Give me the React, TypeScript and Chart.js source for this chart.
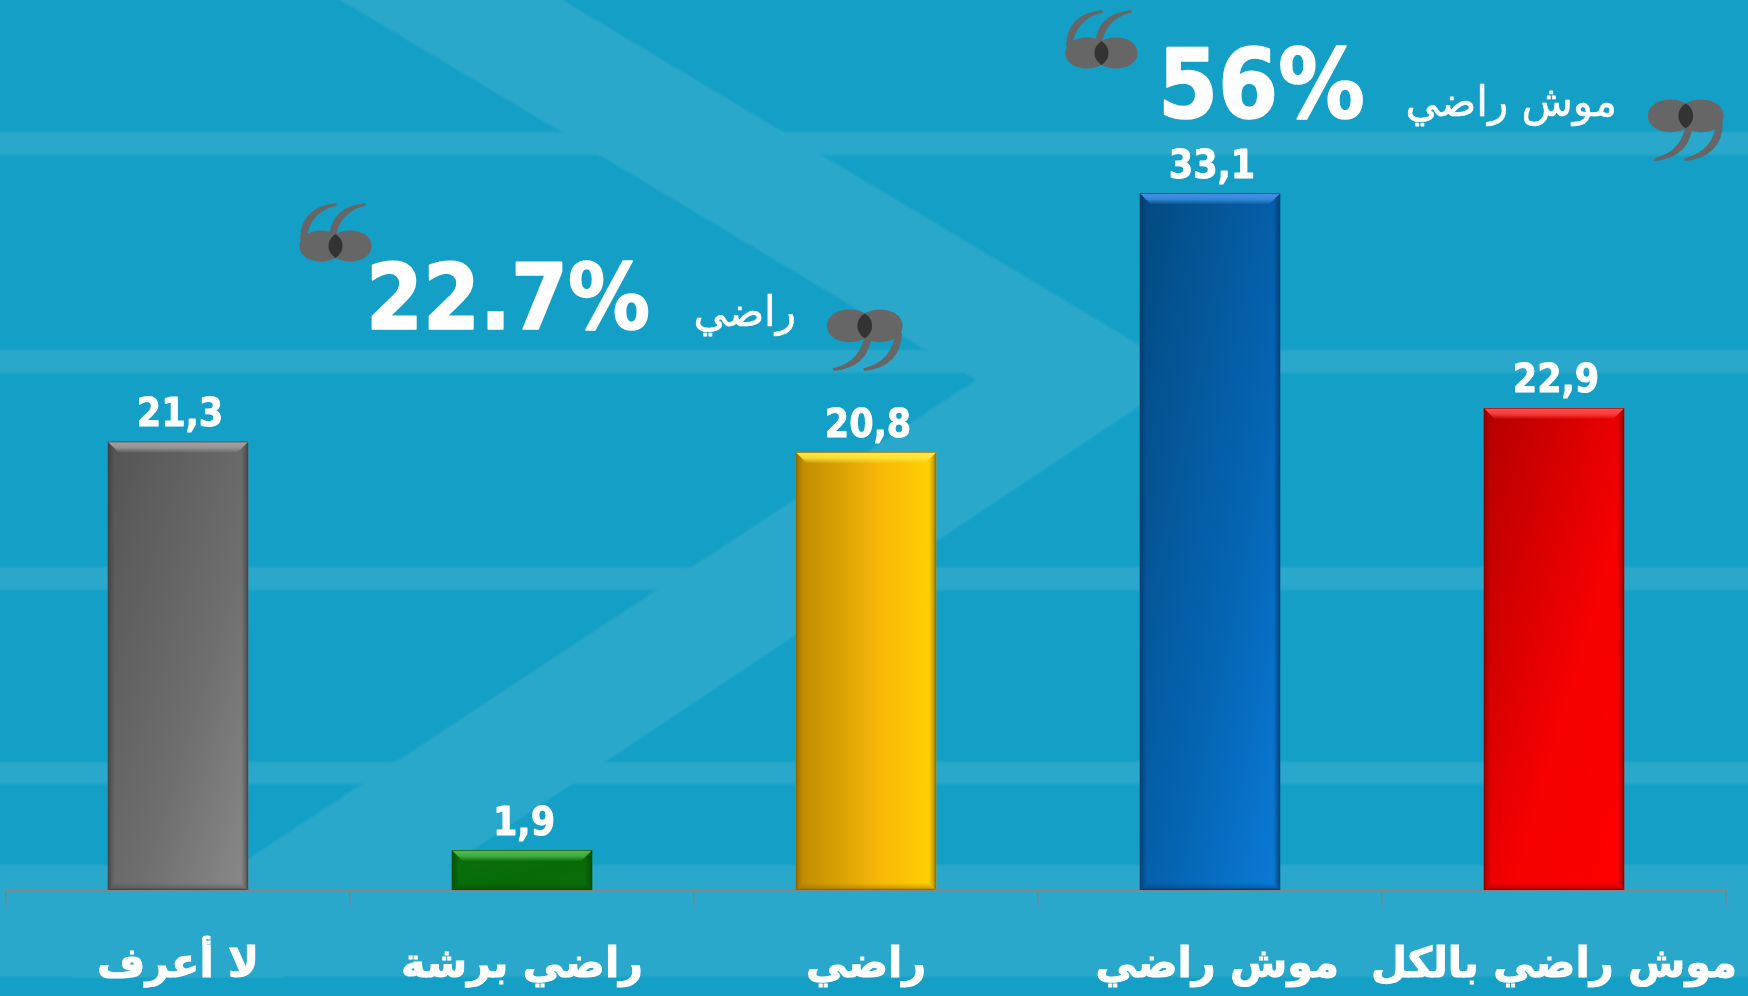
import React, { useEffect, useRef } from "react";
import { Chart, registerables } from "chart.js";

Chart.register(...registerables);

const categories = ["لا أعرف", "راضي برشة", "راضي", " موش راضي", "موش راضي بالكل"];
const values = [21.3, 1.9, 20.8, 33.1, 22.9];
const barStops = [
  ["#545454", "#6e6e6e", "#8a8a8a"],
  ["#0a7010", "#076a06", "#0b6e0b"],
  ["#bc8a00", "#f8b808", "#ffd200"],
  ["#03497f", "#0564b2", "#0a7bd8"],
  ["#b40000", "#f60000", "#ff0000"],
];
const barDiagonal = [true, true, false, true, true];
const barTopLight = ["#a0a0a0", "#4fb84f", "#ffe840", "#3f92e6", "#ff4a4a"];
const barEdge = ["#404040", "#044a04", "#8a6400", "#03386a", "#8a0000"];

const headlines = [
  { value: "22.7%", size: 91, label: "راضي", valueX: 366, valueY: 329, labelX: 796, labelY: 326, open: [300, 203], close: [824, 308] },
  { value: "56%", size: 96, label: "موش راضي", valueX: 1158, valueY: 118, labelX: 1617, labelY: 116, open: [1066, 10], close: [1645, 98] },
];

const BASE = "#14a0c6";
const BAND = "#2aa8cb";
const NUM_FONT = '"DejaVu Sans Condensed", "DejaVu Sans"';
const AR_FONT = '"DejaVu Sans"';

function quote(ctx: CanvasRenderingContext2D, x: number, y: number, closing: boolean) {
  ctx.save();
  ctx.translate(x, y);
  if (closing) {
    ctx.translate(78, 63);
    ctx.rotate(Math.PI);
    ctx.scale(1.05, 1.05);
  }
  const tail = (ox: number) => {
    ctx.beginPath();
    ctx.moveTo(ox, 36);
    ctx.quadraticCurveTo(ox + 1, 4, ox + 36, 0);
    ctx.lineTo(ox + 37, 2.5);
    ctx.quadraticCurveTo(ox + 8, 9, ox + 6, 40);
    ctx.closePath();
    ctx.fillStyle = "#666666";
    ctx.fill();
  };
  const blob = (cx: number) => {
    ctx.beginPath();
    const n = 2 / 2.1;
    for (let a = 0; a < 64; a++) {
      const th = (a / 64) * Math.PI * 2;
      const c = Math.cos(th);
      const s = Math.sin(th);
      const px = cx + 21.5 * Math.sign(c) * Math.pow(Math.abs(c), n);
      const py = 43 + 15.5 * Math.sign(s) * Math.pow(Math.abs(s), n);
      if (a === 0) ctx.moveTo(px, py);
      else ctx.lineTo(px, py);
    }
    ctx.closePath();
  };
  tail(0);
  tail(29);
  blob(21);
  ctx.fillStyle = "#666666";
  ctx.fill();
  blob(50);
  ctx.fill();
  ctx.save();
  blob(21);
  ctx.clip();
  blob(50);
  ctx.fillStyle = "#333333";
  ctx.fill();
  ctx.restore();
  ctx.restore();
}

const backgroundPlugin = {
  id: "background",
  beforeDraw(chart: any) {
    const ctx: CanvasRenderingContext2D = chart.ctx;
    const W = chart.width;
    ctx.save();
    ctx.fillStyle = BASE;
    ctx.fillRect(0, 0, W, chart.height);
    ctx.filter = "blur(1px)";
    ctx.fillStyle = BAND;
    ctx.beginPath();
    [[132, 155], [350, 373], [567, 590], [762, 784], [865, 977]].forEach(([a, b]) => ctx.rect(-5, a, W + 10, b - a));
    ctx.fill();
    ctx.beginPath();
    ctx.moveTo(332, -5);
    ctx.lineTo(554, -5);
    ctx.lineTo(1188, 374);
    ctx.lineTo(282, 977);
    ctx.lineTo(69, 977);
    ctx.lineTo(976, 380);
    ctx.closePath();
    ctx.fill();
    ctx.restore();
  },
};

const barFinishPlugin = {
  id: "barFinish",
  afterDatasetsDraw(chart: any) {
    const ctx: CanvasRenderingContext2D = chart.ctx;
    chart.getDatasetMeta(0).data.forEach((el: any, i: number) => {
      const l = el.x - el.width / 2;
      const r = el.x + el.width / 2;
      const t = el.y;
      const b = el.base;
      const bev = 11;
      ctx.save();
      const trap = (x1: number, y1: number, x2: number, y2: number, x3: number, y3: number, x4: number, y4: number) => {
        ctx.beginPath();
        ctx.moveTo(x1, y1);
        ctx.lineTo(x2, y2);
        ctx.lineTo(x3, y3);
        ctx.lineTo(x4, y4);
        ctx.closePath();
        ctx.fill();
      };
      const gl = ctx.createLinearGradient(l, 0, l + 7, 0);
      gl.addColorStop(0, barEdge[i]);
      gl.addColorStop(0.35, barEdge[i] + "80");
      gl.addColorStop(1, barEdge[i] + "00");
      ctx.fillStyle = gl;
      trap(l, t, l + 7, t + 7, l + 7, b - 7, l, b);
      const gr = ctx.createLinearGradient(r, 0, r - 7, 0);
      gr.addColorStop(0, barEdge[i]);
      gr.addColorStop(0.35, barEdge[i] + "80");
      gr.addColorStop(1, barEdge[i] + "00");
      ctx.fillStyle = gr;
      trap(r, t, r - 7, t + 7, r - 7, b - 7, r, b);
      const gb = ctx.createLinearGradient(0, b, 0, b - 7);
      gb.addColorStop(0, barEdge[i]);
      gb.addColorStop(0.3, barEdge[i] + "60");
      gb.addColorStop(1, barEdge[i] + "00");
      ctx.fillStyle = gb;
      trap(l, b, l + 7, b - 7, r - 7, b - 7, r, b);
      const g = ctx.createLinearGradient(0, t, 0, t + bev);
      g.addColorStop(0, barEdge[i]);
      g.addColorStop(0.12, barTopLight[i]);
      g.addColorStop(0.55, barTopLight[i] + "d0");
      g.addColorStop(1, barTopLight[i] + "10");
      ctx.fillStyle = g;
      trap(l, t, r, t, r - bev, t + bev, l + bev, t + bev);
      ctx.restore();
    });
  },
};

const textPlugin = {
  id: "texts",
  afterDraw(chart: any) {
    const ctx: CanvasRenderingContext2D = chart.ctx;
    ctx.save();
    ctx.fillStyle = "#ffffff";
    ctx.strokeStyle = "#ffffff";
    ctx.lineJoin = "round";
    ctx.textBaseline = "alphabetic";
    ctx.textAlign = "center";
    ctx.font = `bold 39px ${NUM_FONT}`;
    ctx.lineWidth = 0.8;
    chart.getDatasetMeta(0).data.forEach((el: any, i: number) => {
      const s = values[i].toFixed(1).replace(".", ",");
      ctx.fillText(s, el.x + 2, el.y - 15.5);
      ctx.strokeText(s, el.x + 2, el.y - 15.5);
    });
    headlines.forEach((h) => {
      ctx.fillStyle = "#ffffff";
      ctx.textAlign = "left";
      ctx.font = `bold ${h.size}px ${NUM_FONT}`;
      ctx.lineWidth = 1.6;
      ctx.fillText(h.value, h.valueX, h.valueY);
      ctx.strokeText(h.value, h.valueX, h.valueY);
      ctx.textAlign = "right";
      ctx.font = `42px ${AR_FONT}`;
      ctx.lineWidth = 0.6;
      ctx.fillText(h.label, h.labelX, h.labelY);
      ctx.strokeText(h.label, h.labelX, h.labelY);
      quote(ctx, h.open[0], h.open[1], false);
      quote(ctx, h.close[0], h.close[1], true);
    });
    ctx.restore();
  },
};

export default function App() {
  const ref = useRef<HTMLCanvasElement>(null);
  useEffect(() => {
    document.body.style.margin = "0";
    const chart = new Chart(ref.current!, {
      type: "bar",
      data: {
        labels: categories,
        datasets: [
          {
            data: values,
            barPercentage: 0.408,
            categoryPercentage: 1,
            borderWidth: 0,
            backgroundColor: (c: any) => {
              const x = c.chart.scales.x;
              const y = c.chart.scales.y;
              const i = c.dataIndex;
              if (!x || !y || i === undefined) return barStops[0][0];
              const w = (x.width / categories.length) * 0.408;
              const cx = x.getPixelForValue(i);
              const top = y.getPixelForValue(values[i]);
              const h = y.getPixelForValue(0) - top;
              if (![w, cx, top, h].every(Number.isFinite) || h <= 0) return barStops[i][1];
              const l = cx - w / 2;
              const k = (2 * w * h) / (h * h + w * w);
              const g = barDiagonal[i]
                ? c.chart.ctx.createLinearGradient(l, top, l + h * k, top + w * k)
                : c.chart.ctx.createLinearGradient(l, 0, l + w, 0);
              g.addColorStop(0, barStops[i][0]);
              g.addColorStop(0.6, barStops[i][1]);
              g.addColorStop(1, barStops[i][2]);
              return g;
            },
          },
        ],
      },
      options: {
        responsive: false,
        animation: false,
        events: [],
        layout: { padding: { left: 6, right: 22, top: 48, bottom: 0 } },
        plugins: { legend: { display: false }, tooltip: { enabled: false }, title: { display: false } },
        scales: {
          y: { display: false, min: 0, max: 40 },
          x: {
            afterFit: (s: any) => {
              s.height = 996 - 890;
              s.paddingLeft = 0;
              s.paddingRight = 0;
            },
            border: { color: "#858585", width: 2.5 },
            grid: { drawOnChartArea: false, offset: true, color: "#808080", tickLength: 15, lineWidth: 1.5 },
            ticks: {
              color: "#ffffff",
              textStrokeColor: "#ffffff",
              textStrokeWidth: 1,
              font: { family: AR_FONT, size: 41.5, weight: "bold" },
              padding: 36,
              maxRotation: 0,
              autoSkip: false,
            },
          },
        },
      },
      plugins: [backgroundPlugin, barFinishPlugin, textPlugin],
    } as any);
    return () => chart.destroy();
  }, []);
  return <canvas ref={ref} width={1748} height={996} style={{ display: "block" }} />;
}
